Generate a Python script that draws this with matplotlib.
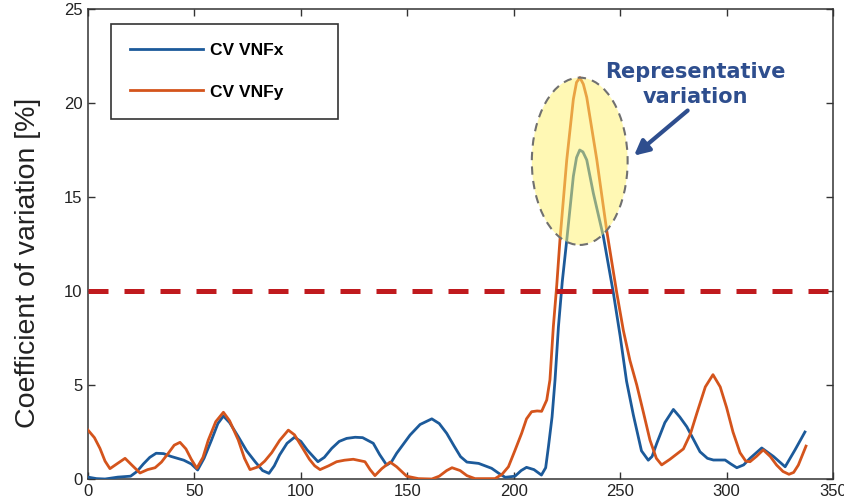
import matplotlib
matplotlib.use("Agg")
import matplotlib.pyplot as plt
from matplotlib.patches import Ellipse

# Position along the profile and coefficient of variation [%] for both components
vnfx_pos = [0, 4, 8, 14, 20, 23, 26, 29, 32, 35.5, 39, 45, 48.5, 51.5, 54.5, 58, 61,
            63.6, 66.5, 70.6, 74.5, 78.5, 82, 85, 87.5, 90, 93.5, 97, 100, 103, 108,
            111, 114.5, 118, 121.5, 125.5, 129, 134, 137, 140.3, 142.5, 145, 151.3,
            156, 161.5, 165, 168.5, 172, 175, 178, 183.5, 189.6, 193, 196, 200.6,
            203.5, 206, 209.5, 213, 215, 216.3, 218, 219.4, 221, 222.8, 224.9, 228,
            229.5, 231, 232.5, 234.3, 237.4, 242.1, 246.8, 250, 253, 256.2, 260,
            263.2, 265, 267.2, 271, 275, 278, 281.3, 287.5, 291, 293.8, 299.3, 302,
            304.8, 308, 311, 316.5, 322, 327.5, 332.1, 336.8]
vnfx_cv = [0.1, 0.02, 0.0, 0.1, 0.15, 0.4, 0.8, 1.15, 1.37, 1.35, 1.2, 1.0, 0.8, 0.48,
           1.1, 2.07, 2.95, 3.35, 3.0, 2.25, 1.5, 0.92, 0.45, 0.3, 0.7, 1.28, 1.9,
           2.22, 2.0, 1.54, 0.92, 1.15, 1.63, 2.0, 2.16, 2.22, 2.2, 1.9, 1.3, 0.74,
           0.9, 1.37, 2.34, 2.9, 3.2, 2.95, 2.43, 1.75, 1.19, 0.9, 0.83, 0.57, 0.3,
           0.09, 0.15, 0.45, 0.62, 0.5, 0.21, 0.6, 1.72, 3.3, 5.27, 8.1, 10.5, 12.7,
           16.1, 17.1, 17.5, 17.4, 16.97, 15.2, 12.9, 9.9, 7.6, 5.2, 3.4, 1.5, 1.0,
           1.2, 1.9, 3.0, 3.7, 3.3, 2.78, 1.45, 1.1, 1.01, 1.01, 0.8, 0.6, 0.75, 1.1,
           1.65, 1.2, 0.65, 1.54, 2.5]

vnfy_pos = [0, 3, 5.6, 8, 10.3, 13.5, 17.4, 20.5, 24.4, 28, 31.5, 34.5, 37.7, 40.5,
            43.2, 46, 48.5, 51.1, 54, 56.5, 60, 63.6, 66.5, 70.6, 73.5, 76.1, 80, 83,
            86.3, 90, 94.1, 97, 100.4, 104, 106.5, 109, 113, 116.8, 120.5, 124.6,
            130.1, 132.5, 134.8, 138, 141.9, 145, 149.7, 155.2, 161.5, 165, 168.5,
            171, 174.8, 178, 181.8, 191.2, 194.5, 197.5, 200.5, 203.7, 206, 208.4,
            211, 213.1, 215.5, 217, 218.6, 220.2, 221.7, 224.9, 228, 229.5, 231.1,
            232.7, 234.3, 239, 243.7, 248.4, 251.5, 254.6, 257.8, 261, 264, 267,
            269.5, 273.4, 279.7, 283, 286, 290, 293.6, 297, 300, 303, 306.3, 309,
            311, 314, 317.2, 320.5, 323.5, 326.5, 329.3, 331.5, 333.7, 337.3]
vnfy_cv = [2.6, 2.2, 1.63, 0.95, 0.55, 0.8, 1.1, 0.75, 0.32, 0.5, 0.6, 0.9, 1.37, 1.8,
           1.95, 1.6, 1.05, 0.57, 1.15, 2.07, 3.05, 3.55, 3.1, 2.07, 1.1, 0.5, 0.65,
           0.95, 1.4, 2.05, 2.6, 2.35, 1.72, 1.05, 0.7, 0.5, 0.7, 0.92, 1.0, 1.05,
           0.92, 0.5, 0.18, 0.55, 0.9, 0.65, 0.15, 0.02, 0.0, 0.15, 0.45, 0.6, 0.45,
           0.18, 0.02, 0.02, 0.25, 0.65, 1.5, 2.43, 3.2, 3.58, 3.62, 3.6, 4.2, 5.27,
           8.1, 10.3, 12.7, 16.97, 20.2, 21.1, 21.35, 21.0, 20.3, 17.0, 13.2, 9.9,
           7.9, 6.3, 5.0, 3.5, 2.07, 1.1, 0.75, 1.05, 1.6, 2.4, 3.49, 4.9, 5.55,
           4.9, 3.8, 2.5, 1.4, 0.95, 0.92, 1.2, 1.55, 1.2, 0.74, 0.4, 0.25, 0.35,
           0.74, 1.75]

THRESHOLD = 10
x_ticks = [0, 50, 100, 150, 200, 250, 300, 350]
y_ticks = [0, 5, 10, 15, 20, 25]

# Region of the peak that gets highlighted
peak_center = (231, 16.9)
peak_width = 45
peak_height = 8.9

BLUE = "#1c5a9a"
ORANGE = "#d4541c"
NOTE_BLUE = "#2e4e8e"


def plot_cv(outfile="out.png"):
    plt.rcParams["font.family"] = ["Liberation Sans", "DejaVu Sans"]

    fig = plt.figure(figsize=(8.44, 5.04), dpi=100)
    ax = fig.add_axes([0.1043, 0.0496, 0.8827, 0.9325])

    ax.plot(vnfx_pos, vnfx_cv, color=BLUE, lw=2.0, label="CV VNFx", zorder=3)
    ax.plot(vnfy_pos, vnfy_cv, color=ORANGE, lw=2.0, label="CV VNFy", zorder=3)

    # 10 % limit
    ax.axhline(THRESHOLD, color="#c01a1e", lw=3.6, dashes=(4.0, 3.2), zorder=5)

    # Yellow highlight over the peak
    ax.add_patch(Ellipse(peak_center, peak_width, peak_height,
                         facecolor=(1.0, 0.95, 0.42, 0.5),
                         edgecolor="#707070", lw=1.5,
                         linestyle=(0, (4, 3)), zorder=4))

    ax.text(285.2, 21.0, "Representative\nvariation", color=NOTE_BLUE,
            family="DejaVu Sans", fontsize=15, fontweight="bold",
            ha="center", va="center", linespacing=1.3)
    ax.annotate("", xy=(256.5, 17.2), xytext=(281.7, 19.6),
                arrowprops=dict(arrowstyle="-|>", color=NOTE_BLUE, lw=3,
                                mutation_scale=22, shrinkA=0, shrinkB=0))

    ax.set_xlim(0, 350)
    ax.set_ylim(0, 25)
    ax.set_xticks(x_ticks)
    ax.set_yticks(y_ticks)
    ax.tick_params(direction="in", length=5, width=1, colors="#333333",
                   labelcolor="#222222", labelsize=12, top=True, right=True)
    ax.tick_params(axis="x", pad=3.5)
    ax.tick_params(axis="y", pad=4)

    ax.set_ylabel("Coefficient of variation [%]", fontsize=20.5,
                  color="#222222", va="center")
    ax.yaxis.set_label_coords(-0.081, 0.46)

    for spine in ax.spines.values():
        spine.set_color("#333333")
        spine.set_linewidth(1.1)

    leg = ax.legend(loc="upper left", bbox_to_anchor=(0.031, 0.764, 0.305, 0.204),
                    mode="expand", borderaxespad=0, fancybox=False,
                    edgecolor="#333333", framealpha=1, handlelength=4.2,
                    handletextpad=0.4, labelspacing=1.5, borderpad=1.1,
                    prop=dict(size=12.5, weight="bold"))
    leg.get_frame().set_linewidth(1.2)

    fig.savefig(outfile, dpi=100)


def main():
    plot_cv()


if __name__ == "__main__":
    main()
